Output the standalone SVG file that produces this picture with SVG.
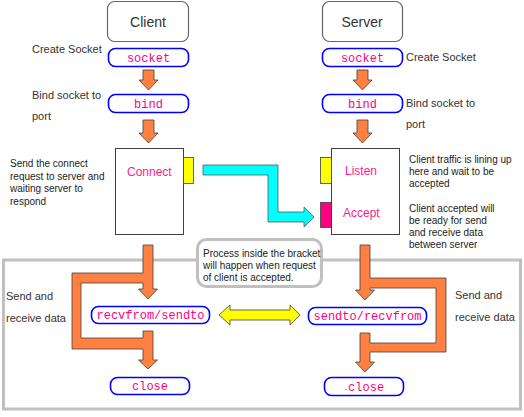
<svg xmlns="http://www.w3.org/2000/svg" width="524" height="417" viewBox="0 0 524 417">
<style>
.title{font-family:"Liberation Sans","DejaVu Sans",sans-serif;font-size:14px;fill:#333;}
.lbl{font-family:"Liberation Sans","DejaVu Sans",sans-serif;font-size:10px;fill:#222;}
.lbl11{font-family:"Liberation Sans","DejaVu Sans",sans-serif;font-size:11px;fill:#333;}
.pill{fill:#fff;stroke:#0000ff;stroke-width:1.6;}
.ptxt{font-family:"Liberation Mono","DejaVu Sans Mono",monospace;font-size:12px;fill:#ff0080;text-anchor:middle;}
.btxt{font-family:"Liberation Sans","DejaVu Sans",sans-serif;font-size:12px;fill:#ff1a8c;}
.box{fill:#fff;stroke:#404040;stroke-width:1;}
.hdr{fill:#fff;stroke:#666;stroke-width:1.2;}
.orange{fill:#ff8040;stroke:#404040;stroke-width:0.8;}
.tab-y{fill:#ffff00;stroke:#404040;stroke-width:0.8;}
.tab-m{fill:#ff0080;stroke:#404040;stroke-width:0.8;}
</style>

<!-- bracket region -->
<rect id="bracket" x="3.5" y="260" width="517" height="149" fill="none" stroke="#c0c0c0" stroke-width="3"/>

<g id="client">
  <rect class="hdr" x="107.5" y="1.5" width="81" height="40" rx="7"/>
  <text class="title" x="148" y="27" text-anchor="middle">Client</text>
</g>
<g id="server">
  <rect class="hdr" x="322.5" y="1.5" width="80" height="40" rx="7"/>
  <text class="title" x="362" y="27" text-anchor="middle">Server</text>
</g>

<g id="c-socket">
  <rect class="pill" x="108.5" y="48.5" width="80" height="18" rx="7"/>
  <text class="ptxt" x="148.5" y="61.5">socket</text>
  <text class="lbl11" x="32" y="53">Create Socket</text>
</g>
<g id="c-bind">
  <rect class="pill" x="108.5" y="94.5" width="80" height="18" rx="7"/>
  <text class="ptxt" x="148.5" y="107.5">bind</text>
  <text class="lbl11" x="32" y="99">Bind socket to</text>
  <text class="lbl11" x="32" y="120">port</text>
</g>
<g id="s-socket">
  <rect class="pill" x="322.5" y="48.5" width="80" height="18" rx="7"/>
  <text class="ptxt" x="362.5" y="61.5">socket</text>
  <text class="lbl11" x="406" y="61">Create Socket</text>
</g>
<g id="s-bind">
  <rect class="pill" x="322.5" y="94.5" width="80" height="18" rx="7"/>
  <text class="ptxt" x="362.5" y="107.5">bind</text>
  <text class="lbl11" x="406" y="107">Bind socket to</text>
  <text class="lbl11" x="406" y="128">port</text>
</g>

<g id="connect">
  <rect class="box" x="115.5" y="148.5" width="68" height="86"/>
  <rect class="tab-y" x="183.5" y="157.5" width="10" height="26"/>
  <text class="btxt" x="127" y="176">Connect</text>
  <text class="lbl" x="10" y="167">Send the connect</text>
  <text class="lbl" x="10" y="179.5">request to server and</text>
  <text class="lbl" x="10" y="192">waiting server to</text>
  <text class="lbl" x="10" y="204.5">respond</text>
</g>

<g id="listen-accept">
  <rect class="box" x="331.5" y="148.5" width="68" height="86"/>
  <rect class="tab-y" x="320.5" y="157.5" width="11" height="26"/>
  <rect class="tab-m" x="320.5" y="202.5" width="11" height="25"/>
  <text class="btxt" x="345" y="175">Listen</text>
  <text class="btxt" x="343" y="217">Accept</text>
  <text class="lbl" x="409" y="162.5">Client traffic is lining up</text>
  <text class="lbl" x="409" y="174.5">here and wait to be</text>
  <text class="lbl" x="409" y="186.5">accepted</text>
  <text class="lbl" x="409" y="211.5">Client accepted will</text>
  <text class="lbl" x="409" y="223.5">be ready for send</text>
  <text class="lbl" x="409" y="235.5">and receive data</text>
  <text class="lbl" x="409" y="247.5">between server</text>
</g>

<g id="callout">
  <rect x="197.5" y="239.5" width="124" height="47" rx="9" fill="#fff" stroke="#c0c0c0" stroke-width="3"/>
  <text class="lbl" x="203" y="256.5">Process inside the bracket</text>
  <text class="lbl" x="203" y="268.5">will happen when request</text>
  <text class="lbl" x="203" y="280.5">of client is accepted.</text>
</g>

<g id="c-recv">
  <rect class="pill" x="91.5" y="306.5" width="118" height="17" rx="7"/>
  <text class="ptxt" x="150.5" y="319">recvfrom/sendto</text>
  <text class="lbl11" x="6" y="300">Send and</text>
  <text class="lbl11" x="6" y="322">receive data</text>
</g>
<g id="s-send">
  <rect class="pill" x="308.5" y="307.5" width="118" height="17" rx="7"/>
  <text class="ptxt" x="367.5" y="320">sendto/recvfrom</text>
  <text class="lbl11" x="455" y="299">Send and</text>
  <text class="lbl11" x="455" y="321">receive data</text>
</g>
<g id="c-close">
  <rect class="pill" x="110.5" y="377.5" width="79" height="17" rx="7"/>
  <text class="ptxt" x="150" y="390">close</text>
</g>
<g id="s-close">
  <rect class="pill" x="324.5" y="377.5" width="79" height="18" rx="7"/>
  <text class="ptxt" x="364" y="391"><tspan font-size="7">-</tspan>close</text>
</g>

<g id="connectors">
  <!-- client down arrows -->
  <polygon class="orange" points="143,70 154,70 154,80 158,80 148.5,90 139,80 143,80"/>
  <polygon class="orange" points="143,120 154,120 154,133 158,133 148.5,143 139,133 143,133"/>
  <!-- server down arrows -->
  <polygon class="orange" points="357,70 368,70 368,80 372,80 362.5,90 353,80 357,80"/>
  <polygon class="orange" points="357,120 368,120 368,133 372,133 362.5,143 353,133 357,133"/>
  <!-- cyan connect -> accept -->
  <polygon points="203,165 278,165 278,212 304,212 304,207 314,217 304,227 304,222 268,222 268,175 203,175" fill="#00ffff" stroke="#555" stroke-width="0.8"/>
  <!-- client loop -->
  <polygon class="orange" points="143,245 153,245 153,289 157.5,289 148,299 138.5,289 143,289 143,283 81,283 81,338 143,338 143,331 153,331 153,360 157.5,360 148,369 138.5,360 143,360 143,349 72,349 72,273 143,273"/>
  <!-- server loop -->
  <polygon class="orange" points="360,245 370,245 370,278 446,278 446,352 370,352 370,362 374.5,362 365,372 355.5,362 360,362 360,333 370,333 370,343 436,343 436,288 370,288 370,290 374.5,290 365,300 355.5,290 360,290"/>
  <!-- yellow double arrow -->
  <polygon points="219,315 230,305 230,310 290,310 290,305 300,315 290,325 290,320 230,320 230,325" fill="#ffff00" stroke="#404040" stroke-width="0.8"/>
</g>
</svg>
